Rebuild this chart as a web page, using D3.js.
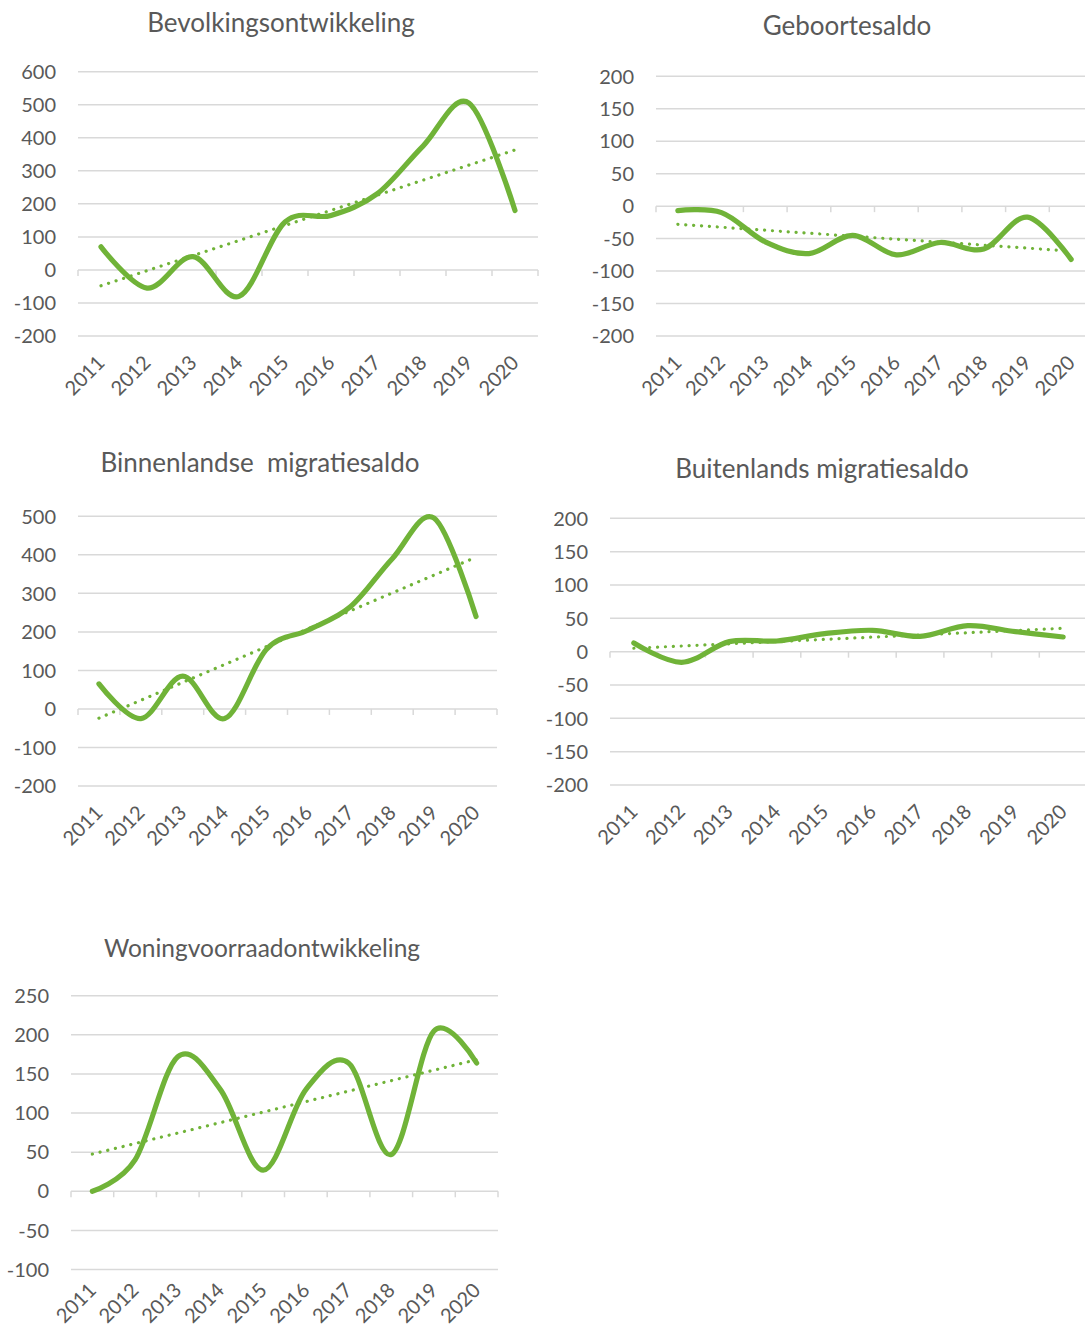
<!DOCTYPE html>
<html>
<head>
<meta charset="utf-8">
<script src="https://cdn.jsdelivr.net/npm/d3@7"></script>
<style>
  body { margin: 0; background: #fff; }
  svg { display: block; font-family: Lato, "Open Sans", sans-serif; }
</style>
</head>
<body>
<div id="chart"></div>
<script>
// data
const years = ["2011", "2012", "2013", "2014", "2015", "2016", "2017", "2018", "2019", "2020"];

const bevolking = [70, -55, 40, -80, 145, 165, 230, 375, 505, 180];
const geboorte = [-7, -10, -55, -73, -45, -75, -56, -66, -17, -82];
const binnenland = [65, -25, 85, -25, 155, 205, 265, 390, 495, 240];
const buitenland = [13, -16, 15, 16, 27, 32, 23, 39, 30, 22];
const woningen = [0, 40, 172, 130, 27, 130, 164, 47, 205, 164];

const ticksBevolking = [-200, -100, 0, 100, 200, 300, 400, 500, 600];
const ticksGeboorte = [-200, -150, -100, -50, 0, 50, 100, 150, 200];
const ticksBinnenland = [-200, -100, 0, 100, 200, 300, 400, 500];
const ticksBuitenland = [-200, -150, -100, -50, 0, 50, 100, 150, 200];
const ticksWoningen = [-100, -50, 0, 50, 100, 150, 200, 250];

const green = "#70b338";
const grid = "#d9d9d9";
const textColor = "#595959";

const width = 1085, height = 1330;

const svg = d3.select("#chart").append("svg")
  .attr("width", width)
  .attr("height", height);

// layout of the five panels
const panels = [
  { title: "Bevolkingsontwikkeling", values: bevolking, ticks: ticksBevolking,
    left: 78, right: 538, top: 71.7, bottom: 336, titleX: 281, titleY: 32, titleSize: 26, labelDy: 28 },
  { title: "Geboortesaldo", values: geboorte, ticks: ticksGeboorte,
    left: 656, right: 1093, top: 76.3, bottom: 336, titleX: 847, titleY: 35, titleSize: 26, labelDy: 28 },
  { title: "Binnenlandse  migratiesaldo", values: binnenland, ticks: ticksBinnenland,
    left: 78, right: 497, top: 516.3, bottom: 786, titleX: 260, titleY: 472, titleSize: 26, labelDy: 28 },
  { title: "Buitenlands migratiesaldo", values: buitenland, ticks: ticksBuitenland,
    left: 610, right: 1087, top: 518.3, bottom: 785, titleX: 822, titleY: 478, titleSize: 26, labelDy: 28 },
  { title: "Woningvoorraadontwikkeling", values: woningen, ticks: ticksWoningen,
    left: 71, right: 498, top: 995.7, bottom: 1269.5, titleX: 262, titleY: 957, titleSize: 24.5, labelDy: 22 }
];

// least squares line through the points (Excel linear trendline)
function trend(values) {
  const n = values.length;
  const mx = (n - 1) / 2;
  const my = d3.mean(values);
  let sxy = 0, sxx = 0;
  values.forEach((v, i) => { sxy += (i - mx) * (v - my); sxx += (i - mx) * (i - mx); });
  const b = sxy / sxx;
  return values.map((v, i) => my + b * (i - mx));
}

panels.forEach(p => {
  const g = svg.append("g");

  const x = d3.scaleBand()
    .domain(years)
    .range([p.left, p.right]);

  const y = d3.scaleLinear()
    .domain(d3.extent(p.ticks))
    .range([p.bottom, p.top]);

  // title
  g.append("text")
    .attr("x", p.titleX)
    .attr("y", p.titleY)
    .attr("text-anchor", "middle")
    .attr("fill", textColor)
    .style("font-size", p.titleSize + "px")
    .style("white-space", "pre")
    .text(p.title);

  // gridlines
  g.selectAll("line.grid")
    .data(p.ticks)
    .enter().append("line")
    .attr("class", "grid")
    .attr("x1", p.left)
    .attr("x2", p.right)
    .attr("y1", d => y(d))
    .attr("y2", d => y(d))
    .attr("stroke", grid)
    .attr("stroke-width", 1.5);

  // y labels
  g.selectAll("text.ylab")
    .data(p.ticks)
    .enter().append("text")
    .attr("class", "ylab")
    .attr("x", p.left - 22)
    .attr("y", d => y(d))
    .attr("dy", "0.36em")
    .attr("text-anchor", "end")
    .attr("fill", textColor)
    .style("font-size", "20px")
    .text(d => d);

  // tick marks on the zero line, at category boundaries
  const bounds = years.map(d => x(d)).concat([x(years[years.length - 1]) + x.bandwidth()]);
  g.selectAll("line.tick")
    .data(bounds)
    .enter().append("line")
    .attr("x1", d => d)
    .attr("x2", d => d)
    .attr("y1", y(0))
    .attr("y2", y(0) + 6)
    .attr("stroke", grid)
    .attr("stroke-width", 1.5);

  // x labels below the plot, rotated
  g.selectAll("text.xlab")
    .data(years)
    .enter().append("text")
    .attr("class", "xlab")
    .attr("text-anchor", "end")
    .attr("fill", textColor)
    .style("font-size", "20px")
    .attr("transform", d => "translate(" + (x(d) + x.bandwidth() / 2 + 5) + "," + (p.bottom + p.labelDy) + ") rotate(-45)")
    .text(d => d);

  const cx = d => x(d) + x.bandwidth() / 2;

  // dotted trendline
  const tr = trend(p.values);
  g.append("path")
    .datum(years)
    .attr("fill", "none")
    .attr("stroke", green)
    .attr("stroke-width", 3.2)
    .attr("stroke-linecap", "round")
    .attr("stroke-dasharray", "0.1 7.8")
    .attr("d", d3.line()
      .x(d => cx(d))
      .y((d, i) => y(tr[i]))(years));

  // smoothed series line
  g.append("path")
    .datum(p.values)
    .attr("fill", "none")
    .attr("stroke", green)
    .attr("stroke-width", 5.2)
    .attr("stroke-linecap", "round")
    .attr("stroke-linejoin", "round")
    .attr("d", d3.line()
      .x((d, i) => cx(years[i]))
      .y(d => y(d))
      .curve(d3.curveCatmullRom.alpha(0))(p.values));
});
</script>
</body>
</html>
